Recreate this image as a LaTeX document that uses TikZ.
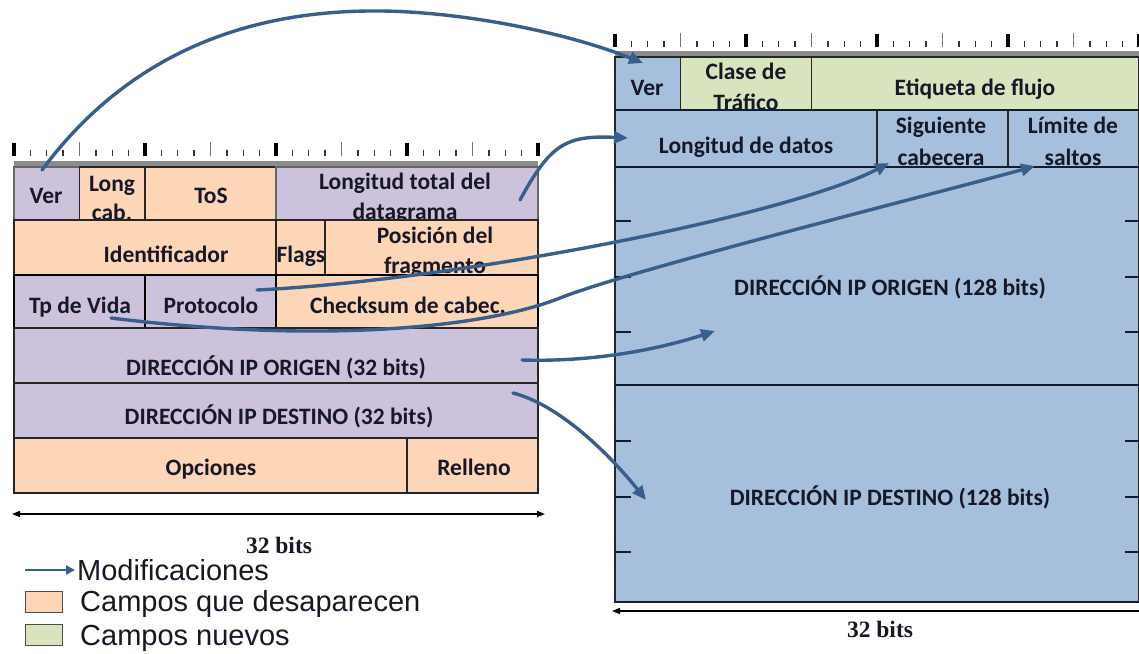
\documentclass[tikz,border=0pt]{standalone}
\usepackage{fontspec}
\newfontfamily\calib{Carlito}
\newfontfamily\timesf{Liberation Serif}
\newfontfamily\arialf{Liberation Sans}
\usetikzlibrary{arrows.meta}
\definecolor{lav}{RGB}{205,194,219}
\definecolor{peach}{RGB}{252,214,182}
\definecolor{sky}{RGB}{166,191,221}
\definecolor{mint}{RGB}{216,228,190}
\definecolor{arr}{RGB}{56,94,140}
\definecolor{ink}{RGB}{22,24,40}
\definecolor{navyline}{RGB}{18,28,48}
\newcommand\mkcell[7]{%
  \pgfmathsetmacro\mkW{(#4-#3)*16.375}%
  \pgfmathsetmacro\mkH{#6-#5}%
  \pgfmathsetmacro\mkX{#2+#3*16.375}%
  \node[cellbox,#7,minimum width=\mkW pt,minimum height=\mkH pt,anchor=north west] (#1) at (\mkX,#5) {};%
}
\newcommand\mkruler[2]{% #1 x origin, #2 base y
  \foreach \i in {0,...,32}{%
    \pgfmathtruncatemacro\mA{mod(\i,8)}%
    \pgfmathtruncatemacro\mB{mod(\i,4)}%
    \pgfmathsetmacro\tx{#1+\i*16.375}%
    \ifnum\mA=0
      \fill[black] ({\tx-2.2},#2) rectangle ({\tx+2.2},{#2-13});
    \else\ifnum\mB=0
      \draw[black!55,line width=1.4pt] (\tx,#2) -- (\tx,{#2-14});
    \else
      \draw[black!80,line width=1.4pt] (\tx,#2) -- (\tx,{#2-6.5});
    \fi\fi
  }%
}
\tikzset{
  cellbox/.style={draw=black!85,line width=1.4pt,inner sep=0pt,outer sep=0pt},
  thickrow/.style={line width=2.4pt,draw=black},
  lbl/.style={anchor=base,inner sep=0pt,text=ink,font={\calib\bfseries\fontsize{23.5}{28}\selectfont}},
  lblT/.style={anchor=base,inner sep=0pt,text=ink,font={\timesf\bfseries\fontsize{23.5}{28}\selectfont}},
  leg/.style={anchor=base west,inner sep=0pt,text=ink,font={\arialf\fontsize{29}{34}\selectfont}},
  legbox/.style={draw=black!70,line width=1.5pt,minimum width=37pt,minimum height=21pt,inner sep=0pt},
  mod/.style={draw=arr,line width=3.4pt,line cap=round,-{Triangle[length=14pt,width=12pt]}},
  modleg/.style={draw=arr,line width=2.6pt,-{Triangle[length=9pt,width=9pt]}},
  dim/.style={draw=black,line width=1.6pt,{Triangle[length=8pt,width=6pt]}-{Triangle[length=8pt,width=6pt]}},
  hline/.style={draw=navyline,line width=2.6pt},
  tickc/.style={draw=navyline,line width=1.6pt}
}
\begin{document}
\begin{tikzpicture}[x=1pt,y=-1pt]
\useasboundingbox (0,0) rectangle (1139,653);
\fill[white] (0,0) rectangle (1139,653);

% ---------------- left (IPv4) ----------------
\mkruler{14}{156}
\fill[black!45] (14,161) rectangle (538,166.5);
% row 1
\mkcell{lver}{14}{0}{4}{167}{220}{fill=lav,draw=black!60}
\mkcell{llong}{14}{4}{8}{167}{220}{fill=peach}
\mkcell{ltos}{14}{8}{16}{167}{220}{fill=peach}
\mkcell{llt}{14}{16}{32}{167}{220}{fill=lav,draw=black!60}
\node[lbl] (tlver) at (46,203) {Ver};
\node[lbl] (tllong) at (112,191) {Long};
\node[lbl] (tlcab) at (112,220) {cab.};
\node[lbl] (tltos) at (211,203) {ToS};
\node[lbl] (tllt1) at (405,189) {Longitud total del};
\node[lbl] (tllt2) at (405,219) {datagrama};
% row 2
\mkcell{lid}{14}{0}{16}{220}{275}{fill=peach}
\mkcell{lfl}{14}{16}{19}{220}{275}{fill=peach}
\mkcell{lpos}{14}{19}{32}{220}{275}{fill=peach}
\node[lbl] (tlid) at (166,262) {Identificador};
\node[lbl] (tlfl) at (301,262) {Flags};
\node[lbl] (tlpos1) at (435,243) {Posición del};
\node[lbl] (tlpos2) at (435,273) {fragmento};
% row 3
\mkcell{ltp}{14}{0}{8}{275}{328}{fill=lav,thickrow}
\mkcell{lpro}{14}{8}{16}{275}{328}{fill=lav,thickrow}
\mkcell{lchk}{14}{16}{32}{275}{328}{fill=peach,thickrow}
\node[lbl] (tltp) at (80,313) {Tp de Vida};
\node[lbl] (tlpro) at (211,313) {Protocolo};
\node[lbl] (tlchk) at (408,313) {Checksum de cabec.};
% row 4, 5
\mkcell{lori}{14}{0}{32}{328}{383}{fill=lav}
\node[lbl] (tlori) at (276,375) {DIRECCIÓN IP ORIGEN (32 bits)};
\mkcell{ldes}{14}{0}{32}{383}{438}{fill=lav}
\node[lbl] (tldes) at (279,424) {DIRECCIÓN IP DESTINO (32 bits)};
% row 6
\mkcell{lopc}{14}{0}{24}{438}{493}{fill=peach}
\mkcell{lrel}{14}{24}{32}{438}{493}{fill=peach}
\node[lbl] (tlopc) at (211,475) {Opciones};
\node[lbl] (tlrel) at (474,475) {Relleno};
% width
\coordinate (lw1) at (12,514);
\coordinate (lw2) at (545,514);
\draw[dim] (lw1) -- (lw2);
\node[lblT] (lbits) at (279,553) {32 bits};

% ---------------- right (IPv6) ----------------
\mkruler{615}{47}
\fill[black!45] (615,51) rectangle (1139,56.5);
\mkcell{rver}{615}{0}{4}{57}{110}{fill=sky}
\mkcell{rcl}{615}{4}{12}{57}{110}{fill=mint}
\mkcell{ret}{615}{12}{32}{57}{110}{fill=mint}
\node[lbl] (trver) at (647,95) {Ver};
\node[lbl] (trcl1) at (746,79) {Clase de};
\node[lbl] (trcl2) at (746,110) {Tráfico};
\node[lbl] (tret) at (975,95) {Etiqueta de flujo};
\mkcell{rlon}{615}{0}{16}{110}{167}{fill=sky}
\mkcell{rsig}{615}{16}{24}{110}{167}{fill=sky}
\mkcell{rlim}{615}{24}{32}{110}{167}{fill=sky}
\node[lbl] (trlon) at (746,153) {Longitud de datos};
\node[lbl] (trsig1) at (941,133) {Siguiente};
\node[lbl] (trsig2) at (941,165) {cabecera};
\node[lbl] (trlim1) at (1073,133) {Límite de};
\node[lbl] (trlim2) at (1073,165) {saltos};
\mkcell{rori}{615}{0}{32}{167}{385}{fill=sky}
\mkcell{rdes}{615}{0}{32}{385}{602}{fill=sky}
\node[lbl] (trori) at (890,295) {DIRECCIÓN IP ORIGEN (128 bits)};
\node[lbl] (trdes) at (890,505) {DIRECCIÓN IP DESTINO (128 bits)};
\draw[hline] (rver.south west) -- (ret.south east);
\draw[hline] (rlon.south west) -- (rlim.south east);
\draw[hline] (rori.south west) -- (rori.south east);
\draw[hline] (rdes.south west) -- (rdes.south east);
\foreach \yy in {221,277,332,441,497,552}{
  \draw[tickc] (615,\yy) -- (631,\yy);
  \draw[tickc] (1125,\yy) -- (1139,\yy);
}
\coordinate (rw1) at (612,611);
\coordinate (rw2) at (1147,611);
\draw[dim] (rw1) -- (rw2);
\node[lblT] (rbits) at (880,637) {32 bits};

% ---------------- modification arrows ----------------
\coordinate (aVer1) at (42,170);
\coordinate (aVer2) at (643,63);
\draw[mod] (aVer1) .. controls (120,65) and (230,12) .. (370,11) .. controls (450,10) and (560,30) .. (aVer2);
\coordinate (aLt1) at (520,200);
\coordinate (aLt2) at (628,138);
\draw[mod] (aLt1) .. controls (550,145) and (565,135) .. (aLt2);
\coordinate (aPr1) at (257,290);
\coordinate (aPr2) at (889,163);
\draw[mod] (aPr1) .. controls (460,280) and (790,215) .. (aPr2);
\coordinate (aTp1) at (111,318);
\coordinate (aTp2) at (1035,166);
\draw[mod] (aTp1) .. controls (330,345) and (490,326) .. (560,298) .. controls (630,270) and (950,190) .. (aTp2);
\coordinate (aOr1) at (522,360);
\coordinate (aOr2) at (715,331);
\draw[mod] (aOr1) .. controls (585,362) and (650,352) .. (aOr2);
\coordinate (aDe1) at (513,393);
\coordinate (aDe2) at (646,500);
\draw[mod] (aDe1) .. controls (560,405) and (610,455) .. (aDe2);

% ---------------- legend ----------------
\coordinate (lg1) at (25,570);
\coordinate (lg2) at (75,570);
\draw[modleg] (lg1) -- (lg2);
\node[leg] (lgm) at (77,580) {Modificaciones};
\node[legbox,fill=peach] (lgb1) at (44,602) {};
\node[leg] (lgc) at (80,611) {Campos que desaparecen};
\node[legbox,fill=mint] (lgb2) at (44,635) {};
\node[leg] (lgn) at (80,645) {Campos nuevos};
\end{tikzpicture}
\end{document}
